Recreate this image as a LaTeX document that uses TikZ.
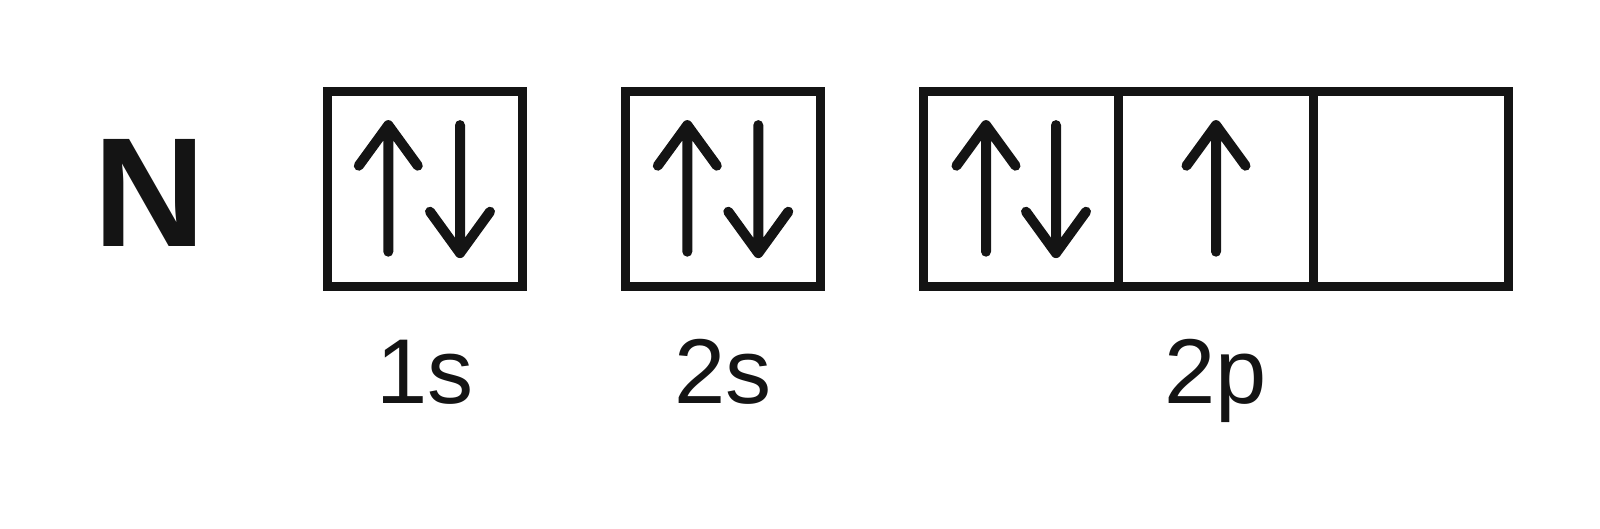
\documentclass[tikz,border=0pt]{standalone}
\usepackage{fontspec}
\setmainfont{Liberation Sans}
\definecolor{ink}{HTML}{141414}

\begin{document}
\begin{tikzpicture}
		[x=0.02cm,y=-0.02cm,
		orb/.style={draw=ink,line width=0.175cm,minimum size=3.9cm,inner sep=0pt},
		spin/.style={draw=ink,line width=0.2cm,line cap=round,line join=round},
		lbl/.style={text=ink,inner sep=0pt,anchor=base,font=\fontsize{52.4}{60}\selectfont}]
		\useasboundingbox (0,0) rectangle (1600,528);
		\node[lbl,font=\fontsize{88.6}{100}\selectfont\bfseries] (el) at (149.7,246.7) {N};
		\node[orb] (s1) at (424.8,189.1) {};
		\node[orb] (s2) at (723.3,189.1) {};
		\node[orb] (p1) at (1021,189.1) {};
		\node[orb] (p2) at (1216,189.1) {};
		\node[orb] (p3) at (1411,189.1) {};
		\node[lbl] (l1) at (425,403) {1s};
		\node[lbl] (l2) at (723,403) {2s};
		\node[lbl] (l3) at (1216,403) {2p};
		
		\foreach \b/\dx in {s1/-36.5,s2/-36,p1/-35,p2/0}
		\draw[spin,shift={(\b)}] (\dx-29.5,-23.4) -- (\dx,-64) -- (\dx+29.5,-23.4) (\dx,-64) -- (\dx,62.6);
		\foreach \b/\dx in {s1/35.2,s2/35,p1/35}
		\draw[spin,shift={(\b)}] (\dx,-64) -- (\dx,64) (\dx-30,22.6) -- (\dx,64) -- (\dx+30,22.6);
		\end{tikzpicture}
\end{document}
